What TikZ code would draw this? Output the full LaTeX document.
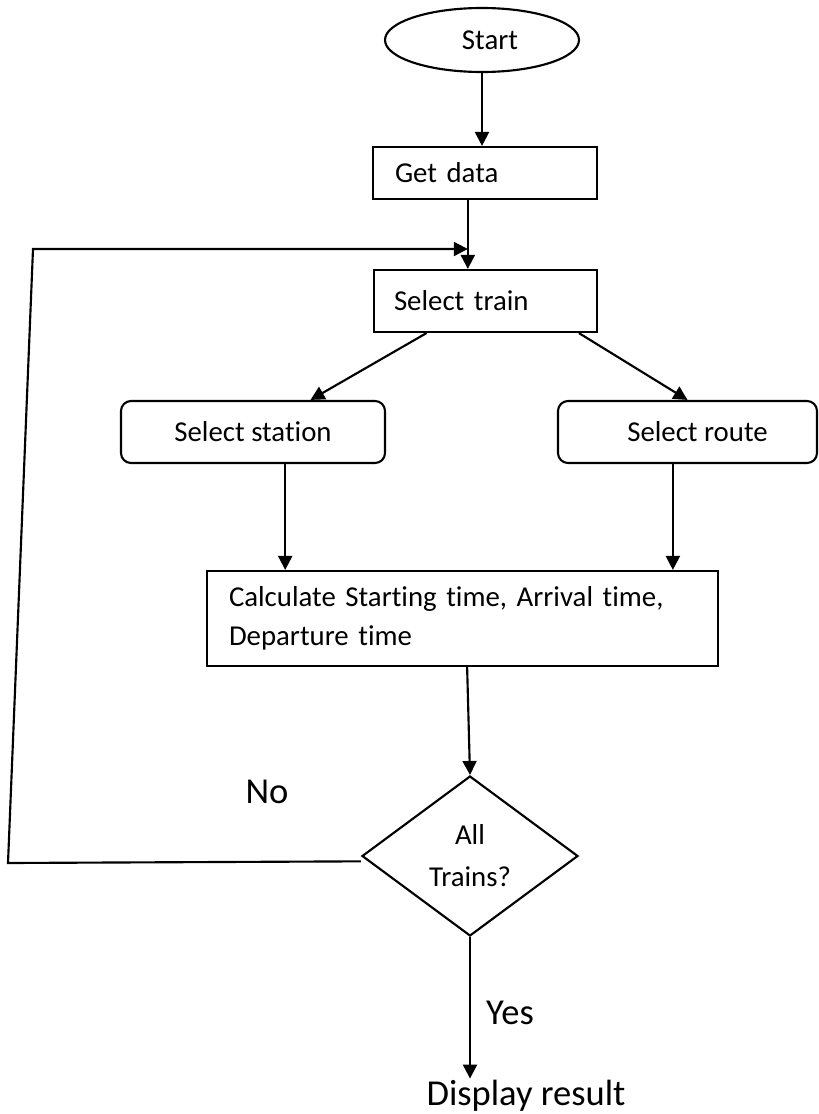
\documentclass[tikz,border=0pt]{standalone}
\usepackage{fontspec}
\setmainfont{Carlito}[Ligatures=NoCommon]
\usetikzlibrary{shapes.geometric,arrows.meta,calc}
\begin{document}
\begin{tikzpicture}[x=0.75pt,y=-0.75pt,
  line width=1.6pt,
  boxtxt/.style={font=\fontsize{21.6}{29.25}\selectfont},
  box/.style={draw, rectangle, inner ysep=0pt, align=left, boxtxt},
  rbox/.style={draw, rectangle, rounded corners=7.5pt, inner sep=0pt, align=center, minimum height=46.5pt, boxtxt},
  arr/.style={-{Triangle[length=10.5pt,width=10.5pt]}},
  big/.style={font=\fontsize{27.4}{32}\selectfont, inner sep=0pt}
]
\useasboundingbox (0,0) rectangle (818,1114);

\node[draw, ellipse, minimum width=145.5pt, minimum height=48pt, inner sep=0pt, boxtxt] (start) at (482,40) {\hspace*{12pt}\raisebox{-3.75pt}{Start}};
\node[box, text width=135pt, inner xsep=16.5pt, minimum height=39pt] (getdata) at (485,173) {Get data};
\node[box, text width=137.25pt, inner xsep=15pt, minimum height=46.5pt] (seltrain) at (485.5,301) {Select train};
\node[rbox, minimum width=198pt] (selstation) at (253,432) {Select station};
\node[rbox, minimum width=194.25pt] (selroute) at (687.5,432) {\hspace*{15pt}Select route};
\node[box, text width=350.25pt, inner xsep=16.5pt, minimum height=71.25pt] (calcbox) at (462.5,618.5) {Calculate Starting time, Arrival time,\\Departure time};
\node[draw, diamond, minimum width=162pt, minimum height=120pt, inner sep=0pt, align=center, font=\fontsize{21.6}{31.5}\selectfont] (dec) at (470,856) {All\\Trains?};

\node[big] (no) at (267,792) {No};
\node[big] (yes) at (510,1013) {Yes};
\node[big, anchor=base] (disp) at (526,1105) {Display result};

\draw[arr] (start.south) -- (start.south |- getdata.north);
\draw[arr] ($(getdata.south west)!0.424!(getdata.south east)$) coordinate (gd) -- (gd |- seltrain.north);
\draw[arr] ($(seltrain.south west)!0.238!(seltrain.south east)$) -- ($(selstation.north west)!0.716!(selstation.north east)$);
\draw[arr] ($(seltrain.south west)!0.915!(seltrain.south east)$) -- (selroute.north);
\draw[arr] ($(selstation.south west)!0.621!(selstation.south east)$) coordinate (ss) -- (ss |- calcbox.north);
\draw[arr] ($(selroute.south west)!0.444!(selroute.south east)$) coordinate (sr) -- (sr |- calcbox.north);
\draw[arr] ($(calcbox.south west)!0.509!(calcbox.south east)$) -- (dec.north);
\draw[arr] (dec.south) -- (dec.south |- disp.north);

\coordinate (lpb) at (8,863);
\coordinate (lpt) at (33,249);
\draw[arr] ([yshift=-4pt]dec.west) -- (lpb) -- (lpt) -- (lpt -| gd);
\end{tikzpicture}
\end{document}
